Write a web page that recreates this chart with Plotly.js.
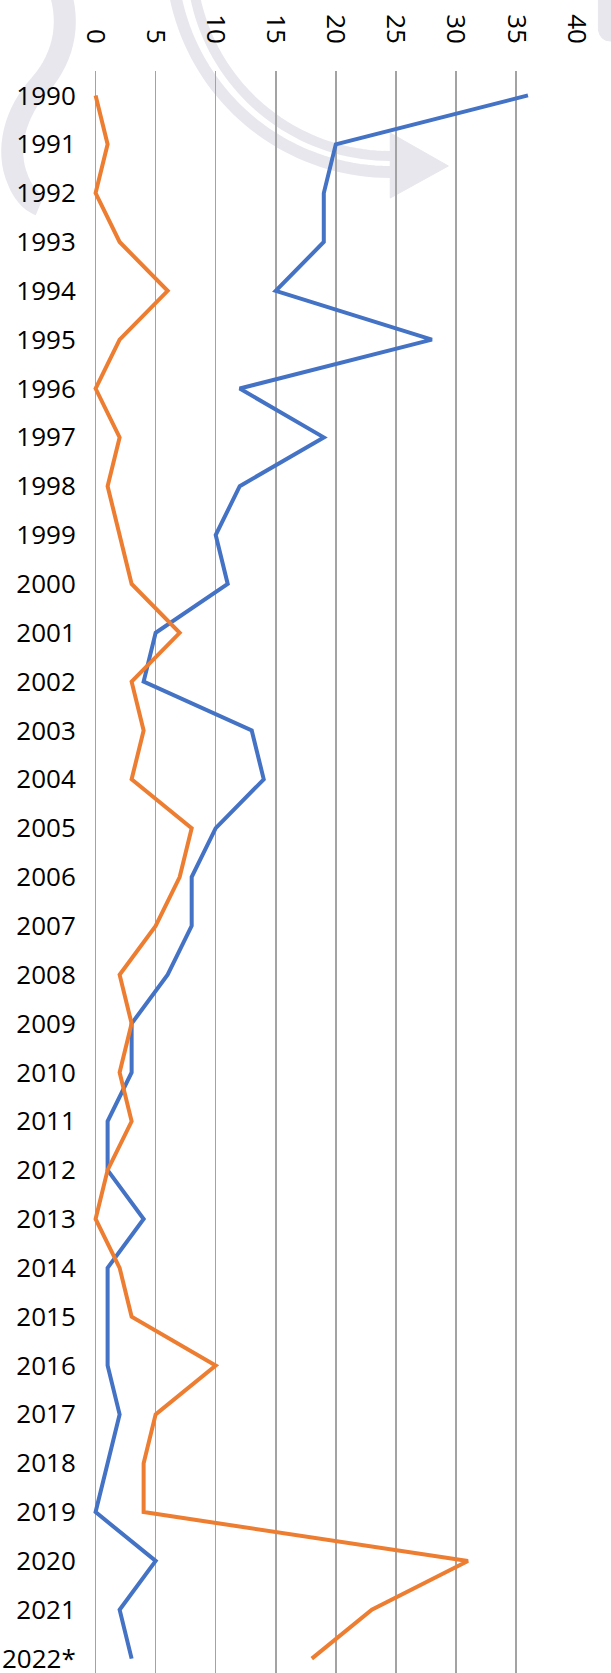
<!DOCTYPE html>
<html>
<head>
<meta charset="utf-8">
<script src="https://cdn.plot.ly/plotly-3.0.1.min.js"></script>
<style>
html,body{margin:0;padding:0;background:#fff;}
#chart{width:611px;height:1673px;}
</style>
</head>
<body>
<div id="chart"></div>
<script>
// ---- data ----
const years = ['1990','1991','1992','1993','1994','1995','1996','1997','1998','1999',
  '2000','2001','2002','2003','2004','2005','2006','2007','2008','2009',
  '2010','2011','2012','2013','2014','2015','2016','2017','2018','2019',
  '2020','2021','2022*'];
const blueSeries = [36,20,19,19,15,28,12,19,12,10,11,5,4,13,14,10,8,8,6,3,3,1,1,4,1,1,1,2,1,0,5,2,3];
const orangeSeries = [0,1,0,2,6,2,0,2,1,2,3,7,3,4,3,8,7,5,2,3,2,3,1,0,2,3,10,5,4,4,31,23,18];
const xTicks = [0,5,10,15,20,25,30,35,40];

// ---- layout geometry ----
const W = 611, H = 1673;
const L = 92, T = 71, R = 35.4, B = 0;
const plotW = W - L - R, plotH = H - T - B;

// watermark helpers (background decoration only, pixel -> paper)
function px(x){ return ((x - L) / plotW).toFixed(5); }
function py(y){ return ((H - B - y) / plotH).toFixed(5); }
function P(x,y){ return px(x) + ',' + py(y); }
function arcPath(cx, cy, r, ytop, n){
  const a1 = Math.PI - Math.asin((ytop - cy) / r), a2 = Math.PI / 2;
  let s = '';
  for (let i = 0; i <= n; i++){
    const a = a1 + (a2 - a1) * i / n;
    s += (i ? ' L' : 'M') + P(cx + r * Math.cos(a), cy + r * Math.sin(a));
  }
  return s;
}
// sampled cubic bezier chain: pts = [p0, c1, c2, p1, c1, c2, p2, ...]
function bezPath(pts, n){
  let s = 'M' + P(pts[0][0], pts[0][1]);
  for (let k = 0; k + 3 < pts.length; k += 3){
    const p0 = pts[k], c1 = pts[k+1], c2 = pts[k+2], p1 = pts[k+3];
    for (let i = 1; i <= n; i++){
      const t = i / n, u = 1 - t;
      const x = u*u*u*p0[0] + 3*u*u*t*c1[0] + 3*u*t*t*c2[0] + t*t*t*p1[0];
      const y = u*u*u*p0[1] + 3*u*u*t*c1[1] + 3*u*t*t*c2[1] + t*t*t*p1[1];
      s += ' L' + P(x, y);
    }
  }
  return s;
}
const wm = 'rgb(231,231,237)';
const shapes = [
  {type:'path', xref:'paper', yref:'paper', layer:'below',
   path:bezPath([[56,-20],[72,18],[66,55],[40,85],[15,112],[5,150],[18,180],[24,195],[32,202],[40,205]], 16),
   line:{color:wm, width:22}},
  {type:'path', xref:'paper', yref:'paper', layer:'below',
   path:arcPath(390,-47,219,-10,40), line:{color:wm, width:12}},
  {type:'path', xref:'paper', yref:'paper', layer:'below',
   path:arcPath(390,-43,199,-10,40), line:{color:wm, width:10}},
  {type:'path', xref:'paper', yref:'paper', layer:'below',
   path:'M' + P(390,133) + ' L' + P(390,198) + ' L' + P(448,166) + ' Z',
   fillcolor:wm, line:{color:wm, width:1}},
  {type:'path', xref:'paper', yref:'paper', layer:'below',
   path:'M' + P(598,-10) + ' L' + P(598,30) + ' Q' + P(600,41) + ' ' + P(610,41) + ' L' + P(616,41) + ' L' + P(616,-10) + ' Z',
   fillcolor:wm, line:{color:wm, width:1}}
];

const font = "'Open Sans', 'Noto Sans', sans-serif";

const traces = [
  {x: blueSeries, y: years, type:'scatter', mode:'lines', name:'Series 1',
   line:{color:'#4472C4', width:4}, hoverinfo:'skip'},
  {x: orangeSeries, y: years, type:'scatter', mode:'lines', name:'Series 2',
   line:{color:'#ED7D31', width:4}, hoverinfo:'skip'}
];

const layout = {
  width: W, height: H,
  margin: {l: L, r: R, t: T, b: B, pad: 0},
  paper_bgcolor:'#ffffff', plot_bgcolor:'rgba(0,0,0,0)',
  showlegend:false,
  font:{family:font, color:'#000000', size:26},
  xaxis:{
    side:'top', range:[-0.3, 40], tickvals:xTicks, ticktext:xTicks.map(String),
    tickangle:90, showgrid:true, gridcolor:'#A3A3A3', gridwidth:1.5,
    zeroline:false, showline:false,
    ticks:'outside', ticklen:17, tickcolor:'rgba(0,0,0,0)',
    tickfont:{family:font, size:26, color:'#000000'}, fixedrange:true
  },
  yaxis:{
    type:'category', categoryorder:'array', categoryarray:years,
    range:[32.294, -0.5], autorange:false,
    showgrid:false, zeroline:false, showline:false,
    ticks:'outside', ticklen:10, tickcolor:'rgba(0,0,0,0)',
    tickfont:{family:font, size:26, color:'#000000'}, fixedrange:true
  },
  shapes: shapes
};

Plotly.newPlot('chart', traces, layout, {staticPlot:true, displayModeBar:false});
</script>
</body>
</html>
